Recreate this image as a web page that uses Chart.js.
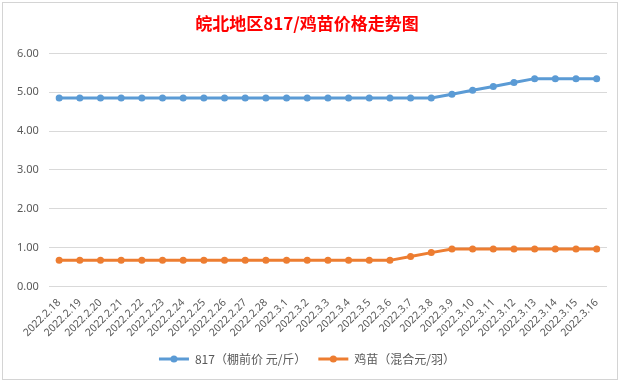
<!DOCTYPE html>
<html><head><meta charset="utf-8">
<script src="https://cdn.jsdelivr.net/npm/chart.js@4/dist/chart.umd.min.js"></script>
<style>
html,body{margin:0;padding:0;background:#fff;}
#wrap{position:absolute;left:2px;top:2px;width:614px;height:376px;border:1px solid #d4d4d4;background:#fff;}
canvas{display:block;}
</style></head><body>
<div id="wrap"><canvas id="c" width="614" height="376"></canvas></div>
<script>
const categories = ["2022.2.18","2022.2.19","2022.2.20","2022.2.21","2022.2.22","2022.2.23","2022.2.24","2022.2.25","2022.2.26","2022.2.27","2022.2.28","2022.3.1","2022.3.2","2022.3.3","2022.3.4","2022.3.5","2022.3.6","2022.3.7","2022.3.8","2022.3.9","2022.3.10","2022.3.11","2022.3.12","2022.3.13","2022.3.14","2022.3.15","2022.3.16"];
const broilerPrice = [4.85,4.85,4.85,4.85,4.85,4.85,4.85,4.85,4.85,4.85,4.85,4.85,4.85,4.85,4.85,4.85,4.85,4.85,4.85,4.95,5.05,5.15,5.25,5.35,5.35,5.35,5.35];
const chickPrice = [0.67,0.67,0.67,0.67,0.67,0.67,0.67,0.67,0.67,0.67,0.67,0.67,0.67,0.67,0.67,0.67,0.67,0.77,0.87,0.96,0.96,0.96,0.96,0.96,0.96,0.96,0.96];
const seriesNames = ["817（棚前价 元/斤）","鸡苗（混合元/羽）"];
const titleText = "皖北地区817/鸡苗价格走势图";

Chart.defaults.font.family = "'Noto Sans','Noto Sans CJK SC',sans-serif";
Chart.defaults.color = "#595959";
new Chart(document.getElementById('c'), {
  type: 'line',
  data: {
    labels: categories,
    datasets: [
      {label: seriesNames[0], data: broilerPrice, borderColor:'#5b9bd5', backgroundColor:'#5b9bd5', borderWidth:3, pointRadius:3.5, pointHoverRadius:3.5, pointBorderWidth:0, tension:0},
      {label: seriesNames[1], data: chickPrice, borderColor:'#ed7d31', backgroundColor:'#ed7d31', borderWidth:3, pointRadius:3.5, pointHoverRadius:3.5, pointBorderWidth:0, tension:0}
    ]
  },
  options: {
    responsive:false, animation:false,
    layout:{padding:{left:4,right:10,top:0,bottom:4}},
    plugins:{
      title:{display:true,text:titleText,color:'#ff0000',font:{family:"'Noto Sans CJK SC',sans-serif",size:17,weight:'bold'},padding:{top:10,bottom:20}},
      legend:{position:'bottom',labels:{usePointStyle:false,boxWidth:30,boxHeight:3,font:{size:12,family:"'Noto Sans CJK SC',sans-serif"},color:'#595959',padding:12,
        generateLabels(chart){
          return chart.data.datasets.map((d,i)=>({text:d.label,fillStyle:d.borderColor,strokeStyle:d.borderColor,lineWidth:0,datasetIndex:i,fontColor:'#595959'}));
        }}},
      tooltip:{enabled:false}
    },
    scales:{
      x:{offset:true,grid:{display:false},border:{display:false},ticks:{minRotation:45,maxRotation:45,autoSkip:false,font:{size:10.5},color:'#595959',padding:2}},
      y:{min:0,max:6,grid:{color:'#d9d9d9',drawTicks:false},border:{display:false},ticks:{stepSize:1,padding:10,font:{size:11},color:'#595959',callback:v=>v.toFixed(2)}}
    }
  },
  plugins:[{id:'legendMarkers',afterDraw(chart){
    const lg=chart.legend; const ctx=chart.ctx;
    lg.legendHitBoxes.forEach((b,i)=>{
      const col=chart.data.datasets[i].borderColor;
      const cx=b.left+lg.options.labels.boxWidth/2; const cy=b.top+b.height/2;
      ctx.save();ctx.fillStyle=col;ctx.beginPath();ctx.arc(cx,cy,3.5,0,Math.PI*2);ctx.fill();ctx.restore();
    });
  }}]
});
</script>
</body></html>
